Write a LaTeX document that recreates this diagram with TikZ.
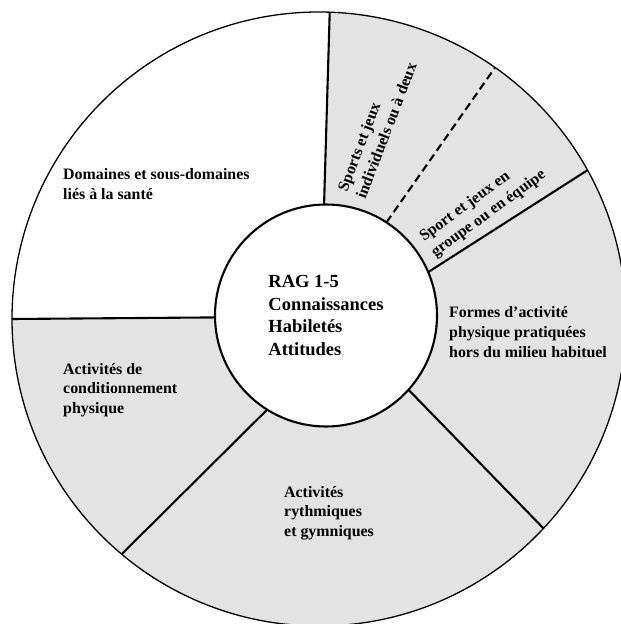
\documentclass[tikz,border=0pt]{standalone}
\usepackage{fontspec}
\setmainfont{Liberation Serif}
\usepackage{tikz}
\usetikzlibrary{calc}

\begin{document}
\begin{tikzpicture}[x=1pt, y=1pt,
  lbl/.style={font=\bfseries\fontsize{15.9}{19.6}\selectfont, align=left, inner sep=0pt, anchor=west},
  divider/.style={line width=2.1pt},
  ring/.style={circle, draw, inner sep=0pt, outer sep=0pt}
]
\useasboundingbox (0,0) rectangle (621,624);
\coordinate (hub) at (319,305);
\coordinate (ctr) at (326,308.5);
\fill[black!11] (hub) circle[radius=307pt];
\fill[white] ($(hub)+(180:307pt)$) arc[start angle=180, end angle=88.1, radius=307pt]
  -- ($(ctr)+(91.5:111pt)$) -- ($(ctr)+(181.8:111pt)$) -- cycle;
\node[ring, line width=1.3pt, minimum size=614pt] (rim) at (hub) {};
\node[ring, fill=white, line width=2.1pt, minimum size=222pt, align=left,
  font=\bfseries\fontsize{18.5}{22.5}\selectfont] (core) at (ctr)
  {RAG 1-5\\Connaissances\\Habiletés\\Attitudes};
\foreach \a/\b in {91.5/88.1, 23.5/29.3, 318/317.6, 238.6/230.3, 181.8/180}
  \draw[divider] (core.\a) -- (rim.\b);
\draw[divider, dash pattern=on 8pt off 4.5pt] (core.57.8) -- (rim.55.5);

\node[lbl] (health) at (63,440) {Domaines et sous-domaines\\liés à la santé};
\node[lbl] (fitness) at (63,234) {Activités de\\conditionnement\\physique};
\node[lbl] (rhythm) at (284,111) {Activités\\rythmiques\\et gymniques};
\node[lbl] (outdoor) at (449,292) {Formes d’activité\\physique pratiquées\\hors du milieu habituel};
\node[lbl, anchor=center, rotate=69] (solo) at (377,497) {Sports et jeux\\individuels ou à deux};
\node[lbl, anchor=center, rotate=36] (team) at (483,418) {Sport et jeux en\\groupe ou en équipe};
\end{tikzpicture}
\end{document}
